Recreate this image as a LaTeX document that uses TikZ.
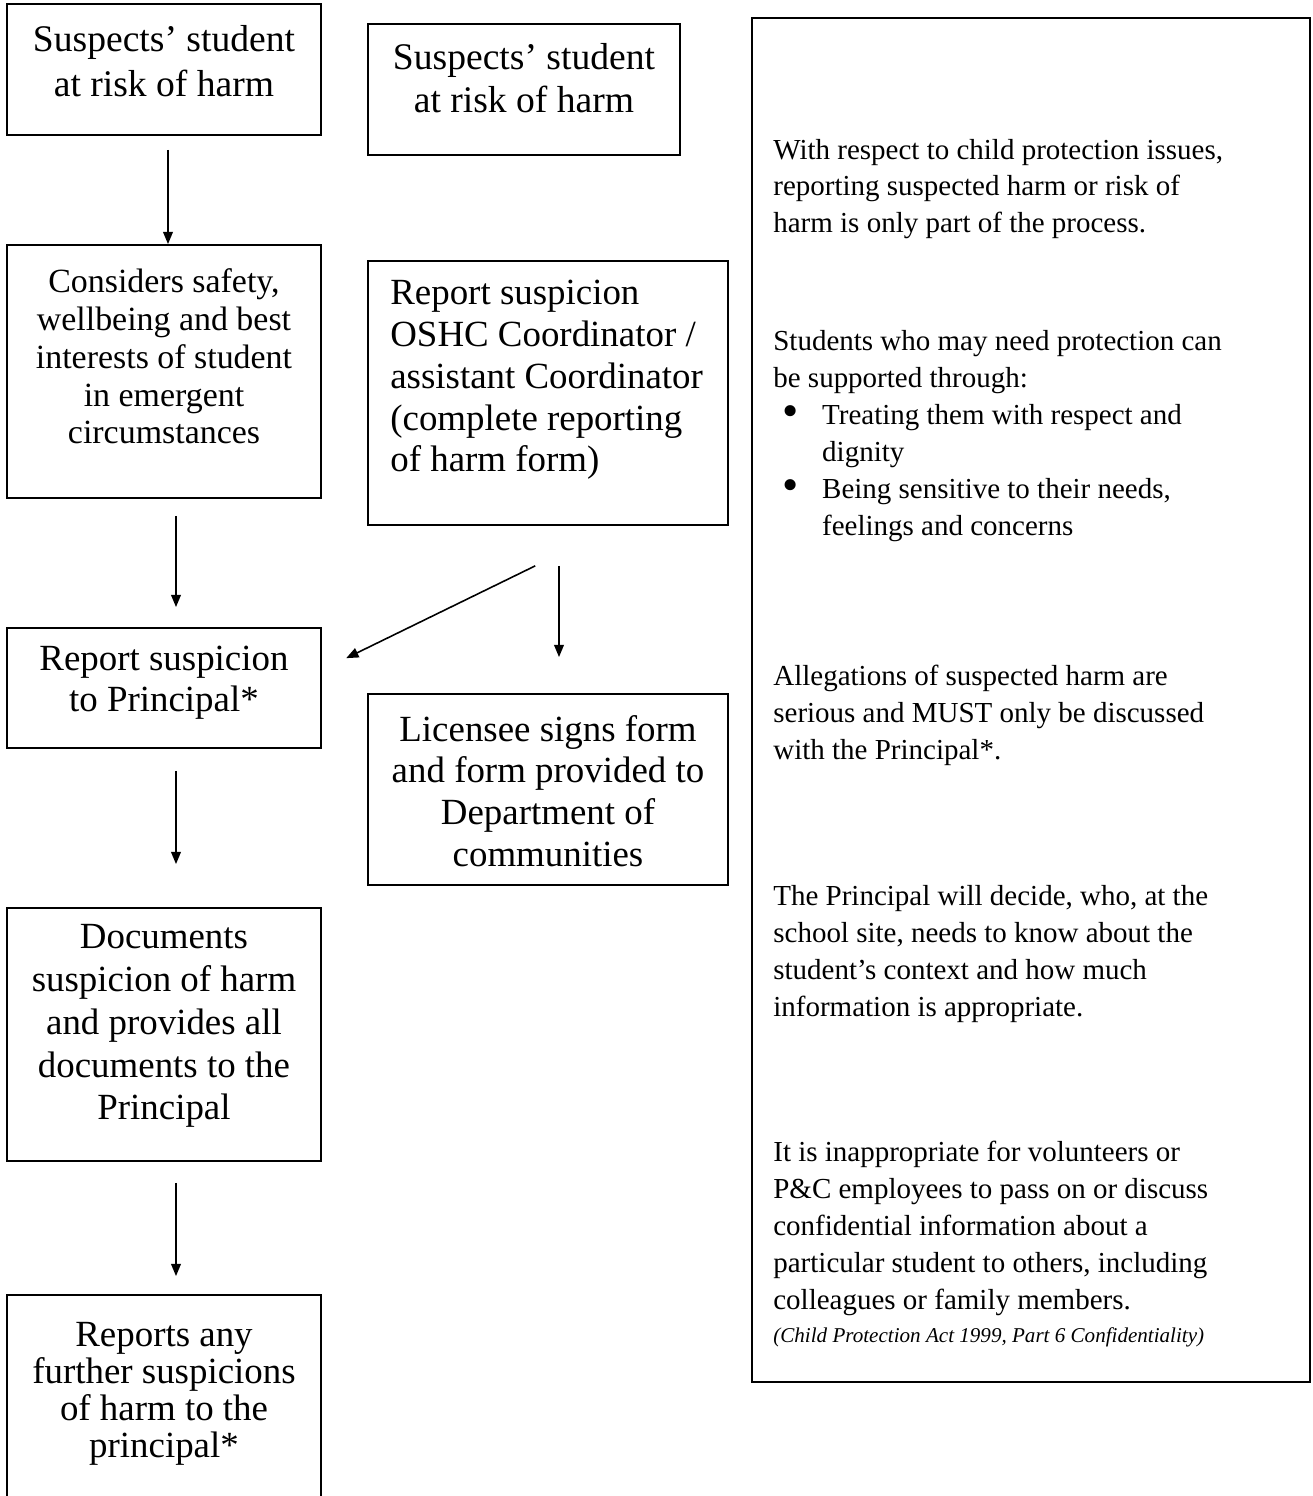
\documentclass[tikz,border=0pt]{standalone}
\usepackage{fontspec}
\setmainfont{Liberation Serif}
\usetikzlibrary{arrows.meta}

\begin{document}
\begin{tikzpicture}[x=0.02cm, y=-0.02cm]
        \tikzstyle{flowbox} = [rectangle, draw=black, line width=1.1pt, inner sep=0pt]
        \tikzstyle{smallbox} = [flowbox, minimum width=6.28cm]
        \tikzstyle{widebox} = [flowbox, minimum width=7.2cm]
        \tikzstyle{boxtext} = [inner sep=0pt, align=center]
        \tikzstyle{notetext} = [inner sep=0pt, align=left, anchor=west, font=\fontsize{16.5}{21}\selectfont]
        \tikzstyle{flowarrow} = [line width=0.9pt, -{Triangle[length=7pt,width=5.6pt]}]
        \newcommand{\bul}{\makebox[27.8pt][l]{\hspace{5pt}\raisebox{-1.2pt}{\scalebox{1.6}{\textbullet}}}}

        \clip (0,0) rectangle (1312,1496);

        % left column
        \node (suspA) [smallbox, minimum height=2.62cm] at (164,69.5) {};
        \node (suspAtxt) [boxtext, font=\fontsize{21.4}{26}\selectfont] at (164,61) {Suspects' student\\at risk of harm};
        \node (considers) [smallbox, minimum height=5.06cm] at (164,371.5) {};
        \node (considerstxt) [boxtext, font=\fontsize{19.3}{21.5}\selectfont] at (164,356.5) {Considers safety,\\wellbeing and best\\interests of student\\in emergent\\circumstances};
        \node (reportP) [smallbox, minimum height=2.4cm] at (164,688) {};
        \node (reportPtxt) [boxtext, font=\fontsize{21}{23.3}\selectfont] at (164,682.5) {Report suspicion\\to Principal*};
        \node (documents) [smallbox, minimum height=5.06cm] at (164,1034.5) {};
        \node (documentstxt) [boxtext, font=\fontsize{21}{24.4}\selectfont] at (164,1026) {Documents\\suspicion of harm\\and provides all\\documents to the\\Principal};
        \node (further) [smallbox, minimum height=5cm] at (164,1420) {};
        \node (furthertxt) [boxtext, font=\fontsize{21}{21}\selectfont] at (164,1394) {Reports any\\further suspicions\\of harm to the\\principal*};

        % middle column
        \node (suspB) [flowbox, minimum width=6.24cm, minimum height=2.62cm] at (524,89.5) {};
        \node (suspBtxt) [boxtext, font=\fontsize{21.4}{24.4}\selectfont] at (524,78.5) {Suspects' student\\at risk of harm};
        \node (reportD) [widebox, minimum height=5.28cm] at (548,393) {};
        \node (reportDtxt) [boxtext, align=left, anchor=west, font=\fontsize{21}{23.8}\selectfont] at (390,380) {Report suspicion\\OSHC Coordinator /\\assistant Coordinator\\(complete reporting\\of harm form)};
        \node (licensee) [widebox, minimum height=3.82cm] at (548,789.5) {};
        \node (licenseetxt) [boxtext, font=\fontsize{21}{23.8}\selectfont] at (548,791) {Licensee signs form\\and form provided to\\Department of\\communities};

        % notes on the right
        \node (notes) [flowbox, minimum width=11.16cm, minimum height=27.28cm] at (1031,700) {};
        \node (noteA) [notetext] at (773,189) {With respect to child protection issues,\\reporting suspected harm or risk of\\harm is only part of the process.};
        \node (noteB) [notetext] at (773,436) {Students who may need protection can\\be supported through:\\\bul Treating them with respect and\\\hspace*{27.8pt}dignity\\\bul Being sensitive to their needs,\\\hspace*{27.8pt}feelings and concerns};
        \node (noteC) [notetext] at (773,715) {Allegations of suspected harm are\\serious and MUST only be discussed\\with the Principal*.};
        \node (noteD) [notetext] at (773,954) {The Principal will decide, who, at the\\school site, needs to know about the\\student's context and how much\\information is appropriate.};
        \node (noteE) [notetext] at (773,1228.5) {It is inappropriate for volunteers or\\P\&C employees to pass on or discuss\\confidential information about a\\particular student to others, including\\colleagues or family members.};
        \node (cite) [notetext, font=\fontsize{12}{14}\selectfont\itshape] at (773,1337) {(Child Protection Act 1999, Part 6 Confidentiality)};

        \draw[flowarrow, shorten <=0.28cm] ([xshift=0.08cm]suspA.south) -- ([xshift=0.08cm]considers.north);
        \draw[flowarrow, shorten <=0.34cm, shorten >=0.4cm] ([xshift=0.24cm]considers.south) -- ([xshift=0.24cm]reportP.north);
        \draw[flowarrow, shorten <=0.44cm, shorten >=0.86cm] ([xshift=0.24cm]reportP.south) -- ([xshift=0.24cm]documents.north);
        \draw[flowarrow, shorten <=0.42cm, shorten >=0.36cm] ([xshift=0.24cm]documents.south) -- ([xshift=0.24cm]further.north);
        \draw[flowarrow, shorten <=1.82cm, shorten >=0.54cm] ([xshift=1.38cm]reportD.south) -- ([yshift=0.36cm]reportP.east);
        \draw[flowarrow, shorten <=0.8cm, shorten >=0.72cm] ([xshift=0.22cm]reportD.south) -- ([xshift=0.22cm]licensee.north);
    \end{tikzpicture}
\end{document}
